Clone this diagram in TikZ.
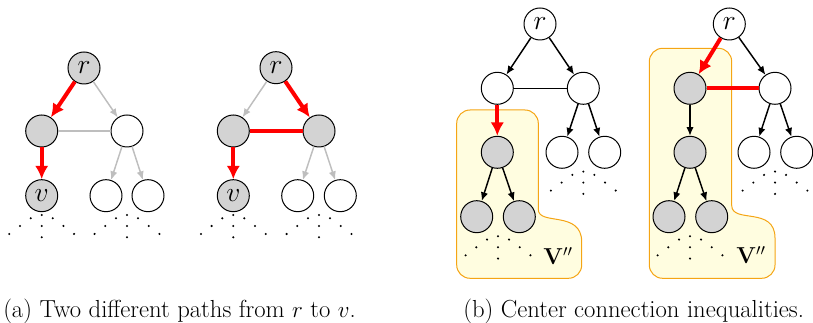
\documentclass[tikz,border=0pt]{standalone}
\usepackage{amsmath}
\usetikzlibrary{arrows.meta}
\definecolor{nodegray}{RGB}{211,211,211}
\definecolor{edgegray}{RGB}{190,190,190}
\definecolor{regfill}{RGB}{255,253,224}
\definecolor{regdraw}{RGB}{245,165,20}
\newcommand\treedots[2]{%
  \foreach \dx/\dy in {-11/-7.7,0/-11,11/-7.7,-21.7/0,0/0,21.7/0,-32.4/8,0/11.3,32.4/8}
    \fill ({#1+\dx},{#2+\dy}) circle (1.15);}
\begin{document}
\begin{tikzpicture}[x=0.75pt,y=-0.75pt,
  nd/.style={circle,draw,line width=0.75pt,minimum size=24pt,inner sep=0pt,fill=white,font=\fontsize{20}{20}\selectfont},
  gnd/.style={nd,fill=nodegray},
  redarr/.style={draw=red,line width=3pt,-{Latex[length=10pt,width=10pt]}},
  redline/.style={draw=red,line width=3pt},
  grayarr/.style={draw=edgegray,line width=1.1pt,-{Latex[length=6.5pt,width=5.5pt]}},
  grayline/.style={draw=edgegray,line width=1.1pt},
  blkarr/.style={draw=black,line width=1.1pt,-{Latex[length=6.5pt,width=5.5pt]}},
  blkline/.style={draw=black,line width=1.1pt},
  region/.style={draw=regdraw,line width=0.75pt,fill=regfill},
  captext/.style={font=\fontsize{18.5}{21}\selectfont,anchor=base west,inner sep=0pt}]
\useasboundingbox (0,0) rectangle (813,323);

% ---------- panel (a), left tree
\node[gnd] (a1r) at (84,68) {$r$};
\node[gnd] (a1l) at (41.7,131) {};
\node[nd]  (a1m) at (127,131) {};
\node[gnd] (a1v) at (41.7,195.7) {$v$};
\node[nd]  (a1c1) at (106,195.7) {};
\node[nd]  (a1c2) at (148,195.7) {};
\draw[grayline] (a1l) -- (a1m);
\draw[grayarr] (a1r) -- (a1m);
\draw[grayarr] (a1m) -- (a1c1);
\draw[grayarr] (a1m) -- (a1c2);
\draw[redarr] (a1r) -- (a1l);
\draw[redarr] (a1l) -- (a1v);
\treedots{41.7}{226}
\treedots{127}{226}

% ---------- panel (a), right tree
\node[gnd] (a2r) at (276,67.7) {$r$};
\node[gnd] (a2l) at (233.3,131) {};
\node[gnd] (a2m) at (319,131) {};
\node[gnd] (a2v) at (233.3,195.7) {$v$};
\node[nd]  (a2c1) at (297.7,195.7) {};
\node[nd]  (a2c2) at (340.3,195.7) {};
\draw[grayarr] (a2r) -- (a2l);
\draw[grayarr] (a2m) -- (a2c1);
\draw[grayarr] (a2m) -- (a2c2);
\draw[redline] (a2l) -- (a2m);
\draw[redarr] (a2r) -- (a2m);
\draw[redarr] (a2l) -- (a2v);
\treedots{233.3}{226}
\treedots{319}{226}

% ---------- panel (b), left tree
\draw[region] (456.7,190) [rounded corners=10] -- (456.7,110) -- (538.3,110) -- (538.3,196)
  [sharp corners] .. controls (538.3,226) and (581.7,210) .. (581.7,242)
  [rounded corners=10] -- (581.7,278.3) -- (456.7,278.3) -- cycle;
\node[nd]  (b1r) at (540,24) {$r$};
\node[nd]  (b1l) at (497.3,88.3) {};
\node[nd]  (b1m) at (583.3,88.3) {};
\node[gnd] (b1g) at (497.3,152.3) {};
\node[gnd] (b1g1) at (476.7,216.7) {};
\node[gnd] (b1g2) at (519.3,216.7) {};
\node[nd]  (b1c1) at (562,152.3) {};
\node[nd]  (b1c2) at (604.7,152.3) {};
\draw[blkarr] (b1r) -- (b1l);
\draw[blkarr] (b1r) -- (b1m);
\draw[blkline] (b1l) -- (b1m);
\draw[redarr] (b1l) -- (b1g);
\draw[blkarr] (b1g) -- (b1g1);
\draw[blkarr] (b1g) -- (b1g2);
\draw[blkarr] (b1m) -- (b1c1);
\draw[blkarr] (b1m) -- (b1c2);
\treedots{583.3}{182.6}
\treedots{498}{247.3}
\node[font=\fontsize{17}{17}\selectfont,inner sep=0pt] (b1lab) at (558,256) {$\mathbf{V}''$};

% ---------- panel (b), right tree
\draw[region] (649.3,150) [rounded corners=10] -- (649.3,48.3) -- (731.7,48.3) -- (731.7,192)
  [sharp corners] .. controls (731.7,224) and (775,206) .. (775,238)
  [rounded corners=10] -- (775,278.3) -- (649.3,278.3) -- cycle;
\node[nd]  (b2r) at (729.3,24) {$r$};
\node[gnd] (b2l) at (690,88.3) {};
\node[nd]  (b2m) at (775,88.3) {};
\node[gnd] (b2g) at (690,152.3) {};
\node[gnd] (b2g1) at (669,216.7) {};
\node[gnd] (b2g2) at (711.7,216.7) {};
\node[nd]  (b2c1) at (754,152.3) {};
\node[nd]  (b2c2) at (796.7,152.3) {};
\draw[blkarr] (b2r) -- (b2m);
\draw[redline] (b2l) -- (b2m);
\draw[redarr] (b2r) -- (b2l);
\draw[blkarr] (b2l) -- (b2g);
\draw[blkarr] (b2g) -- (b2g1);
\draw[blkarr] (b2g) -- (b2g2);
\draw[blkarr] (b2m) -- (b2c1);
\draw[blkarr] (b2m) -- (b2c2);
\treedots{775}{182.6}
\treedots{690}{247.3}
\node[font=\fontsize{17}{17}\selectfont,inner sep=0pt] (b2lab) at (751,255) {$\mathbf{V}''$};

% ---------- captions
\node[captext] (capa) at (3,318) {(a) Two different paths from $r$ to $v$.};
\node[captext] (capb) at (463,318) {(b) Center connection inequalities.};
\end{tikzpicture}
\end{document}
